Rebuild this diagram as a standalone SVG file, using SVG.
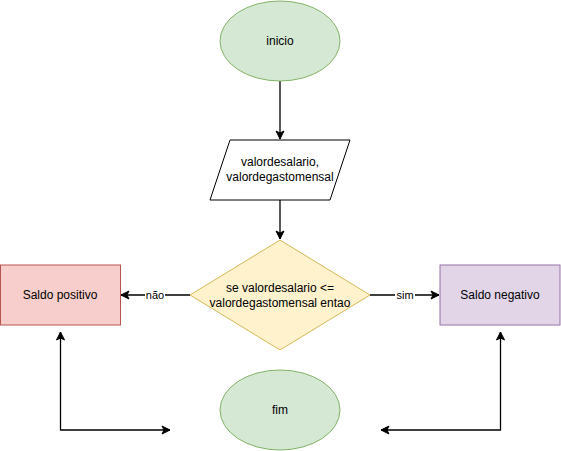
<svg xmlns="http://www.w3.org/2000/svg" width="561" height="451" viewBox="0 0 561 451">
<style>
text{font-family:"Liberation Sans",Arial,sans-serif;font-size:12px;fill:#000;text-anchor:middle;dominant-baseline:central}
.lbl{font-size:11px}
.edge{fill:none;stroke:#000;stroke-width:1.3}
.green{fill:#d5e8d4;stroke:#82b366}
</style>
<defs>
<marker id="arr" markerUnits="userSpaceOnUse" viewBox="-9 -5 10 10" refX="0" refY="0" markerWidth="10" markerHeight="10" orient="auto-start-reverse">
<path d="M0,0 L-8,-4 L-6,0 L-8,4 Z" fill="#000" stroke="#000" stroke-width="1"/>
</marker>
</defs>
<rect width="561" height="451" fill="#fff"/>
<g id="connectors">
<line class="edge" x1="280" y1="81" x2="280" y2="139" marker-end="url(#arr)"/>
<line class="edge" x1="280" y1="200" x2="280" y2="239" marker-end="url(#arr)"/>
<line class="edge" x1="190" y1="295" x2="121" y2="295" marker-end="url(#arr)"/>
<line class="edge" x1="370" y1="295" x2="439" y2="295" marker-end="url(#arr)"/>
<polyline class="edge" points="60.5,332 60.5,430 170,430" marker-start="url(#arr)" marker-end="url(#arr)"/>
<polyline class="edge" points="500.5,332 500.5,430 381,430" marker-start="url(#arr)" marker-end="url(#arr)"/>
<rect x="145" y="288" width="20" height="14" fill="#fff"/>
<text class="lbl" x="155" y="295">não</text>
<rect x="395" y="288" width="20" height="14" fill="#fff"/>
<text class="lbl" x="405" y="295">sim</text>
</g>
<g id="inicio">
<ellipse class="green" cx="280" cy="41" rx="60" ry="40"/>
<text x="280" y="41">inicio</text>
</g>
<g id="entrada">
<polygon points="230,140 350,140 330,200 210,200" fill="#fff" stroke="#000"/>
<text x="280" y="162">valordesalario,</text>
<text x="280" y="177">valordegastomensal</text>
</g>
<g id="decisao">
<polygon points="280,240 370,295 280,350 190,295" fill="#fff2cc" stroke="#d6b656"/>
<text x="280" y="288">se valordesalario &lt;=</text>
<text x="280" y="303">valordegastomensal entao</text>
</g>
<g id="positivo">
<rect x="0.5" y="265" width="120" height="60" fill="#f8cecc" stroke="#b85450"/>
<text x="60" y="295">Saldo positivo</text>
</g>
<g id="negativo">
<rect x="440" y="265" width="120" height="60" fill="#e1d5e7" stroke="#9673a6"/>
<text x="500" y="295">Saldo negativo</text>
</g>
<g id="fim">
<ellipse class="green" cx="280" cy="410" rx="60" ry="40"/>
<text x="280" y="410">fim</text>
</g>
</svg>
